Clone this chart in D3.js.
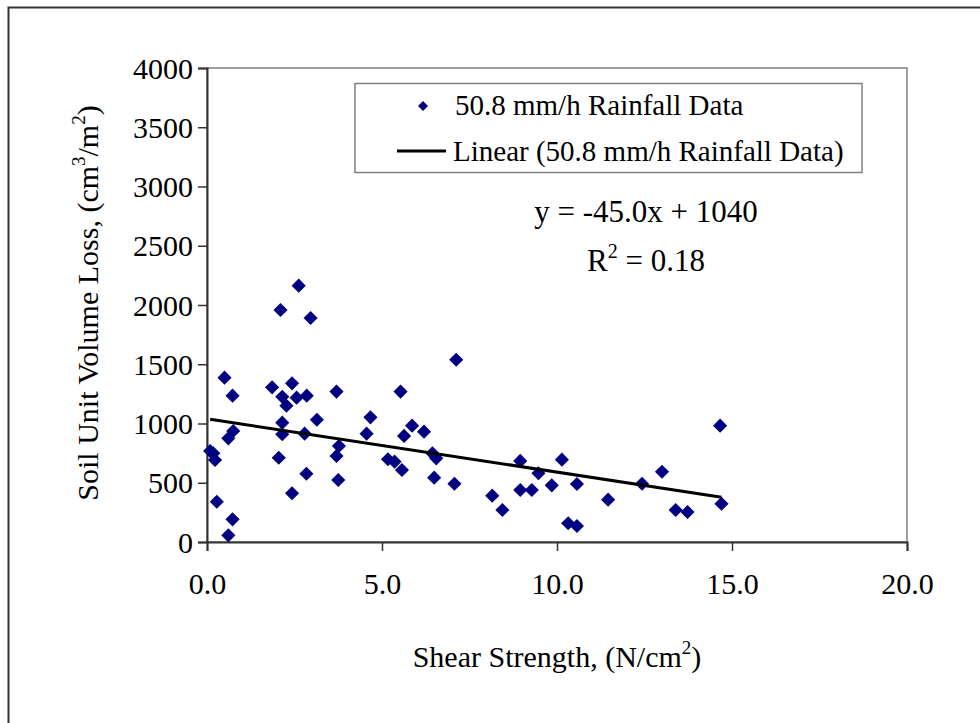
<!DOCTYPE html>
<html lang="en">
<head>
  <meta charset="UTF-8">
  <title>Soil Unit Volume Loss vs Shear Strength</title>
  <script src="https://d3js.org/d3.v7.min.js"></script>
  <style>
    body { margin: 0; background: #fff; }
    svg text { font-family: "Liberation Serif", "Times New Roman", serif; fill: #000; }
  </style>
</head>
<body>

<script>
  // Shear strength (N/cm2)
  const shear = [
    2.62, 2.10, 2.96, 0.50, 0.73, 1.86, 2.43, 2.15, 2.56, 2.85,
    2.27, 3.70, 3.14, 4.67, 2.15, 0.75, 0.61, 2.15, 2.79, 4.56,
    0.09, 0.18, 0.23, 3.77, 3.70, 2.05, 5.17, 2.84, 3.75, 2.43,
    0.28, 0.73, 0.61, 7.12, 5.53, 5.86, 5.63, 6.20, 5.36, 5.57,
    6.44, 6.55, 6.49, 7.07, 8.15, 8.44, 8.95, 8.95, 9.28, 9.47,
    9.85, 10.14, 10.32, 10.57, 10.57, 11.46, 12.43, 13.00, 13.39, 13.73,
    14.66, 14.70
  ];
  // Soil unit volume loss (cm3/m2)
  const loss = [
    2163, 1958, 1890, 1387, 1235, 1305, 1339, 1226, 1218, 1235,
    1150, 1269, 1032, 1052, 1007, 937, 875, 909, 914, 914,
    768, 748, 692, 810, 726, 711, 698, 576, 523, 411,
    340, 191, 56, 1538, 1269, 982, 895, 931, 678, 608,
    748, 706, 543, 492, 391, 270, 684, 439, 439, 580,
    478, 695, 158, 135, 489, 357, 492, 593, 270, 253,
    982, 323
  ];

  const xTicks = [0, 5, 10, 15, 20];
  const yTicks = [0, 500, 1000, 1500, 2000, 2500, 3000, 3500, 4000];

  // linear trend: y = -45.0x + 1040
  const slope = -45.0;
  const intercept = 1040;

  const width = 980, height = 723;
  const plotL = 207, plotR = 907, plotT = 68, plotB = 542;
  const serif = '"Liberation Serif", "Times New Roman", serif';

  const svg = d3.select('body').append('svg')
    .attr('width', width)
    .attr('height', height);

  // outer chart frame
  svg.append('rect')
    .attr('x', 8.5).attr('y', 7.5)
    .attr('width', 1000).attr('height', 1000)
    .attr('fill', 'none')
    .attr('stroke', '#333')
    .attr('stroke-width', 2);

  const x = d3.scaleLinear().domain([0, 20]).range([plotL, plotR]);
  const y = d3.scaleLinear().domain([0, 4000]).range([plotB, plotT]);

  // plot area border
  svg.append('rect')
    .attr('x', plotL).attr('y', plotT)
    .attr('width', plotR - plotL).attr('height', plotB - plotT)
    .attr('fill', 'none')
    .attr('stroke', '#808080')
    .attr('stroke-width', 1.5);

  // axes
  const xAxis = svg.append('g')
    .attr('transform', `translate(0,${plotB})`)
    .call(d3.axisBottom(x).tickValues(xTicks).tickFormat(d3.format('.1f')).tickSize(9).tickPadding(22));
  const yAxis = svg.append('g')
    .attr('transform', `translate(${plotL},0)`)
    .call(d3.axisLeft(y).tickValues(yTicks).tickFormat(d3.format('d')).tickSize(9).tickPadding(5));

  [xAxis, yAxis].forEach(g => {
    g.attr('font-family', serif);
    g.select('.domain').attr('stroke', '#333').attr('stroke-width', 2);
    g.selectAll('.tick line').attr('stroke', '#333').attr('stroke-width', 1.5);
    g.selectAll('.tick text')
      .style('font-family', serif)
      .style('font-size', '30px')
      .attr('fill', '#000');
  });
  yAxis.selectAll('.tick text').attr('dy', '0.34em');
  xAxis.selectAll('.tick text').attr('dy', '0.71em');

  // data points
  const diamond = d3.symbol().type(d3.symbolSquare).size(100);
  svg.append('g').selectAll('path')
    .data(shear.map((s, i) => [s, loss[i]]))
    .enter().append('path')
    .attr('d', diamond)
    .attr('transform', d => `translate(${x(d[0])},${y(d[1])}) rotate(45)`)
    .attr('fill', '#000080');

  // trend line across the data range
  const x0 = d3.min(shear), x1 = d3.max(shear);
  svg.append('line')
    .attr('x1', x(x0)).attr('y1', y(slope * x0 + intercept))
    .attr('x2', x(x1)).attr('y2', y(slope * x1 + intercept))
    .attr('stroke', '#000')
    .attr('stroke-width', 3);

  // legend
  const lg = svg.append('g');
  lg.append('rect')
    .attr('x', 355).attr('y', 83.5)
    .attr('width', 507).attr('height', 89)
    .attr('fill', '#fff')
    .attr('stroke', '#808080')
    .attr('stroke-width', 1.5);
  lg.append('path')
    .attr('d', d3.symbol().type(d3.symbolSquare).size(50))
    .attr('transform', 'translate(423,106) rotate(45)')
    .attr('fill', '#000080');
  lg.append('text')
    .attr('x', 455).attr('y', 115)
    .style('font-family', serif)
    .style('font-size', '29px')
    .text('50.8 mm/h Rainfall Data');
  lg.append('line')
    .attr('x1', 397).attr('x2', 446)
    .attr('y1', 151).attr('y2', 151)
    .attr('stroke', '#000').attr('stroke-width', 3);
  lg.append('text')
    .attr('x', 453).attr('y', 161)
    .style('font-family', serif)
    .style('font-size', '29px')
    .text('Linear (50.8 mm/h Rainfall Data)');

  // equation
  svg.append('text')
    .attr('x', 646).attr('y', 222)
    .attr('text-anchor', 'middle')
    .style('font-family', serif)
    .style('font-size', '31px')
    .text('y = -45.0x + 1040');
  const r2 = svg.append('text')
    .attr('x', 646).attr('y', 271)
    .attr('text-anchor', 'middle')
    .style('font-family', serif)
    .style('font-size', '31px');
  r2.append('tspan').text('R');
  r2.append('tspan').attr('dy', -13).style('font-size', '20px').text('2');
  r2.append('tspan').attr('dy', 13).text(' = 0.18');

  // axis titles
  const xl = svg.append('text')
    .attr('x', 557).attr('y', 667)
    .attr('text-anchor', 'middle')
    .style('font-family', serif)
    .style('font-size', '30px');
  xl.append('tspan').text('Shear Strength, (N/cm');
  xl.append('tspan').attr('dy', -13).style('font-size', '19px').text('2');
  xl.append('tspan').attr('dy', 13).text(')');

  const yl = svg.append('text')
    .attr('transform', 'translate(98,303) rotate(-90)')
    .attr('text-anchor', 'middle')
    .style('font-family', serif)
    .style('font-size', '30px');
  yl.append('tspan').text('Soil Unit Volume Loss, (cm');
  yl.append('tspan').attr('dy', -13).style('font-size', '19px').text('3');
  yl.append('tspan').attr('dy', 13).text('/m');
  yl.append('tspan').attr('dy', -13).style('font-size', '19px').text('2');
  yl.append('tspan').attr('dy', 13).text(')');
</script>

</body>
</html>
